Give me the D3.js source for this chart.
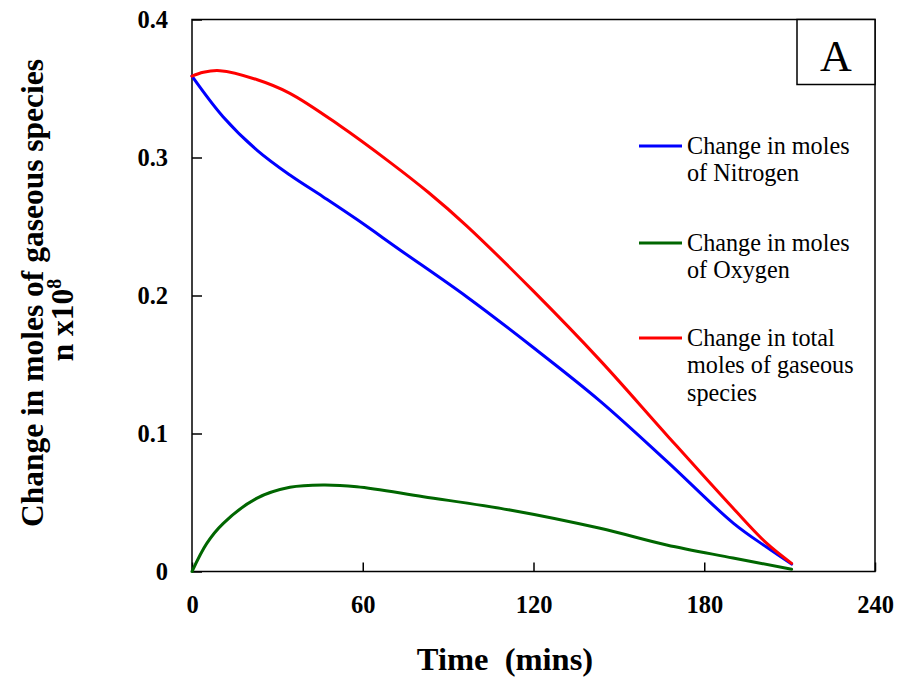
<!DOCTYPE html>
<html>
<head>
<meta charset="utf-8">
<script src="https://cdn.jsdelivr.net/npm/d3@7/dist/d3.min.js"></script>
<style>
  html, body { margin: 0; padding: 0; background: #fff; }
  svg { display: block; }
  text { font-family: "Liberation Serif", "Times New Roman", serif; fill: #000; }
</style>
</head>
<body>
<svg id="chart" width="899" height="679"></svg>
<script>
// Time (mins) and change in moles (n x10^8) for each gaseous species
const timeNitrogen = [0, 10.9, 22.8, 34.4, 46.0, 58.0, 73.1, 96.5, 119.8, 143.4, 166.8, 190.3, 202.0, 210.7];
const nitrogen     = [0.359, 0.3296, 0.3054, 0.2873, 0.2716, 0.2550, 0.2330, 0.1991, 0.1625, 0.1235, 0.0800, 0.0349, 0.0175, 0.0054];

const timeOxygen = [0, 5.2, 11.0, 22.7, 34.4, 46.1, 57.9, 81.3, 111.7, 143.4, 166.8, 190.1, 210.7];
const oxygen     = [0, 0.0204, 0.0349, 0.053, 0.061, 0.0627, 0.0614, 0.0542, 0.0446, 0.0313, 0.0192, 0.0098, 0.0016];

const timeTotal = [0, 4, 9.8, 22.7, 34.4, 52.0, 69.6, 83.0, 96.5, 119.8, 143.4, 166.8, 190.1, 201.9, 210.7];
const total     = [0.359, 0.3618, 0.3629, 0.3565, 0.3465, 0.3230, 0.2965, 0.2748, 0.2505, 0.2035, 0.1530, 0.0990, 0.0460, 0.0205, 0.0059];

const xTicks = [0, 60, 120, 180, 240];
const yTicks = [0, 0.1, 0.2, 0.3, 0.4];
const yTickLabels = ["0", "0.1", "0.2", "0.3", "0.4"];

const seriesNames = [
  ["Change in moles", "of Nitrogen"],
  ["Change in moles", "of Oxygen"],
  ["Change in total", "moles of gaseous", "species"]
];
const seriesColors = ["#0000ff", "#006600", "#ff0000"];

const series = [
  { t: timeNitrogen, v: nitrogen },
  { t: timeOxygen, v: oxygen },
  { t: timeTotal, v: total }
];

const svg = d3.select("#chart");
const plotLeft = 192, plotRight = 875, plotTop = 19.5, plotBottom = 571.5;

const x = d3.scaleLinear().domain([0, 240]).range([plotLeft, plotRight]);
const y = d3.scaleLinear().domain([0, 0.4]).range([plotBottom, plotTop]);

// Axes with inward ticks
const xAxis = svg.append("g")
  .attr("transform", `translate(0,${plotBottom})`)
  .call(d3.axisBottom(x).tickValues(xTicks).tickSizeInner(-9).tickSizeOuter(0).tickPadding(24).tickFormat(d3.format("d")));
const yAxis = svg.append("g")
  .attr("transform", `translate(${plotLeft},0)`)
  .call(d3.axisLeft(y).tickValues(yTicks).tickSizeInner(-10).tickSizeOuter(0).tickPadding(24)
    .tickFormat((d, i) => yTickLabels[i]));

[xAxis, yAxis].forEach(g => {
  g.select(".domain").remove();
  g.selectAll(".tick line").attr("stroke", "#000").attr("stroke-width", 1.5);
  g.selectAll(".tick text")
    .style("font-family", "'Liberation Serif', 'Times New Roman', serif")
    .style("font-weight", "bold")
    .style("font-size", "24.5px")
    .attr("fill", "#000");
});

// Plot frame
svg.append("rect")
  .attr("x", plotLeft).attr("y", plotTop)
  .attr("width", plotRight - plotLeft).attr("height", plotBottom - plotTop)
  .attr("fill", "none").attr("stroke", "#000").attr("stroke-width", 1.5);

// Data curves
const line = d3.line()
  .x(d => x(d[0]))
  .y(d => y(d[1]))
  .curve(d3.curveCatmullRom.alpha(0.5));

series.forEach((s, i) => {
  svg.append("path")
    .datum(s.t.map((t, j) => [t, s.v[j]]))
    .attr("d", line)
    .attr("fill", "none")
    .attr("stroke", seriesColors[i])
    .attr("stroke-width", 3)
    .attr("stroke-linejoin", "round")
    .attr("stroke-linecap", "round");
});

// Panel label box
svg.append("rect")
  .attr("x", 797).attr("y", plotTop)
  .attr("width", plotRight - 797).attr("height", 84.5 - plotTop)
  .attr("fill", "#fff").attr("stroke", "#000").attr("stroke-width", 1.5);
svg.append("text")
  .attr("x", 836).attr("y", 70.5)
  .attr("text-anchor", "middle")
  .style("font-size", "44px")
  .text("A");

// Legend
const legendY = [146, 243, 338];
seriesNames.forEach((lines, i) => {
  const g = svg.append("g").attr("transform", `translate(0,${legendY[i]})`);
  g.append("line")
    .attr("x1", 639).attr("x2", 682)
    .attr("y1", 0).attr("y2", 0)
    .attr("stroke", seriesColors[i]).attr("stroke-width", 3);
  lines.forEach((txt, k) => {
    g.append("text")
      .attr("x", 687).attr("y", 8 + k * 27.3)
      .style("font-size", "24.2px")
      .text(txt);
  });
});

// Axis titles
svg.append("text")
  .attr("x", 505).attr("y", 670)
  .attr("text-anchor", "middle")
  .style("font-size", "32.5px")
  .style("font-weight", "bold")
  .style("white-space", "pre")
  .text("Time  (mins)");

const yTitle = svg.append("g").attr("transform", "rotate(-90)");
yTitle.append("text")
  .attr("x", -293).attr("y", 43)
  .attr("text-anchor", "middle")
  .style("font-size", "31.5px")
  .style("font-weight", "bold")
  .text("Change in moles of gaseous species");
const yTitle2 = yTitle.append("text")
  .attr("x", -320).attr("y", 73)
  .attr("text-anchor", "middle")
  .style("font-size", "31.5px")
  .style("font-weight", "bold");
yTitle2.append("tspan").text("n x10");
yTitle2.append("tspan").attr("dy", -12).style("font-size", "20px").text("8");
</script>
</body>
</html>
